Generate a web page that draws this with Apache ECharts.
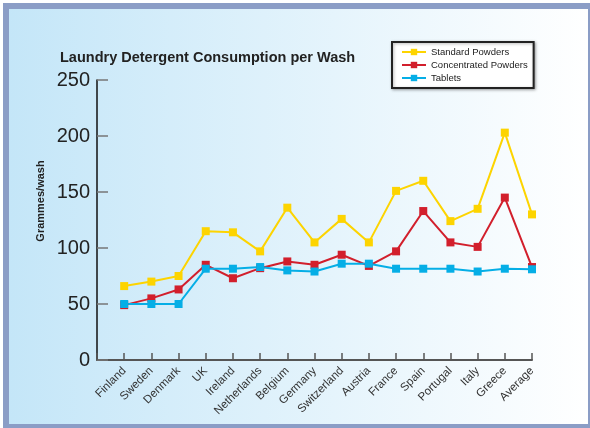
<!DOCTYPE html>
<html>
<head>
<meta charset="utf-8">
<script src="https://cdn.jsdelivr.net/npm/echarts@6/dist/echarts.min.js"></script>
<style>
  html, body { margin: 0; padding: 0; background: #fff; }
  #chart { width: 590px; height: 428px; }
</style>
</head>
<body>
<div id="chart"></div>
<script>
const countries = ['Finland', 'Sweden', 'Denmark', 'UK', 'Ireland', 'Netherlands', 'Belgium', 'Germany',
  'Switzerland', 'Austria', 'France', 'Spain', 'Portugal', 'Italy', 'Greece', 'Average'];
const standardPowders = [66, 70, 75, 115, 114, 97, 136, 105, 126, 105, 151, 160, 124, 135, 203, 130];
const concentratedPowders = [49, 55, 63, 85, 73, 82, 88, 85, 94, 84, 97, 133, 105, 101, 145, 83];
const tablets = [50, 50, 50, 81.5, 81.5, 83, 80, 79, 86, 86, 81.5, 81.5, 81.5, 79, 81.5, 81];
const yTicks = [0, 50, 100, 150, 200, 250];

// first slot left empty so the first country sits one step right of the y axis
const cats = [''].concat(countries);
const pad = arr => [null].concat(arr);

const chart = echarts.init(document.getElementById('chart'));
const font = 'Liberation Sans, Arial, Helvetica, sans-serif';

const mkSeries = (name, data, color) => ({
  name,
  type: 'line',
  data: pad(data),
  symbol: 'rect',
  symbolSize: 8,
  lineStyle: { width: 2, color },
  itemStyle: { color },
  emphasis: { disabled: true },
  animation: false
});

chart.setOption({
  animation: false,
  textStyle: { fontFamily: font },
  graphic: [
    { type: 'rect', z: -10, silent: true, shape: { x: 3, y: 3, width: 587, height: 425 }, style: { fill: '#8b9dc6' } },
    {
      type: 'rect', z: -9, silent: true,
      shape: { x: 9, y: 9, width: 579, height: 415 },
      style: {
        fill: new echarts.graphic.LinearGradient(0, 0, 1, 0, [
          { offset: 0, color: '#c4e6f8' },
          { offset: 1, color: '#ffffff' }
        ])
      }
    },
    // y axis title sits a bit above the plot's middle in the original
    {
      type: 'text', silent: true, x: 41, y: 201, rotation: Math.PI / 2,
      style: {
        text: 'Grammes/wash', fontSize: 11, fontWeight: 'bold', fill: '#222',
        fontFamily: font, align: 'center', verticalAlign: 'middle'
      }
    }
  ],
  title: {
    text: 'Laundry Detergent Consumption per Wash',
    left: 60,
    top: 50,
    padding: 0,
    textStyle: { fontSize: 14.5, fontWeight: 'bold', color: '#222', fontFamily: font }
  },
  legend: {
    orient: 'vertical',
    left: 392,
    top: 42,
    padding: [5, 6, 5, 9],
    itemWidth: 24,
    itemHeight: 8,
    itemGap: 3,
    backgroundColor: '#fff',
    borderColor: '#222',
    borderWidth: 2,
    borderRadius: 0,
    shadowColor: 'rgba(0,0,0,0.3)',
    shadowBlur: 3,
    shadowOffsetX: 1,
    shadowOffsetY: 1,
    textStyle: { fontSize: 9.5, color: '#222', fontFamily: font },
    data: ['Standard Powders', 'Concentrated Powders', 'Tablets']
  },
  grid: { left: 97, right: 58, top: 80, bottom: 68, containLabel: false },
  xAxis: {
    type: 'category',
    data: cats,
    boundaryGap: false,
    axisLine: { lineStyle: { color: '#555', width: 2 } },
    axisTick: { inside: true, length: 7, lineStyle: { color: '#555', width: 1.5 } },
    axisLabel: {
      rotate: 45,
      fontSize: 11.5,
      color: '#333',
      margin: 9,
      interval: 0,
      fontFamily: font
    },
    splitLine: { show: false }
  },
  yAxis: {
    type: 'value',
    min: yTicks[0],
    max: yTicks[yTicks.length - 1],
    interval: 50,
    axisLine: { show: true, lineStyle: { color: '#111', width: 1.5 } },
    axisTick: { show: true, inside: true, length: 11, lineStyle: { color: '#777', width: 1.5 } },
    axisLabel: { fontSize: 20, color: '#222', margin: 7, fontFamily: font },
    splitLine: { show: false }
  },
  series: [
    mkSeries('Standard Powders', standardPowders, '#fdd400'),
    mkSeries('Concentrated Powders', concentratedPowders, '#d21f2c'),
    mkSeries('Tablets', tablets, '#05aee6')
  ]
});
</script>
</body>
</html>
